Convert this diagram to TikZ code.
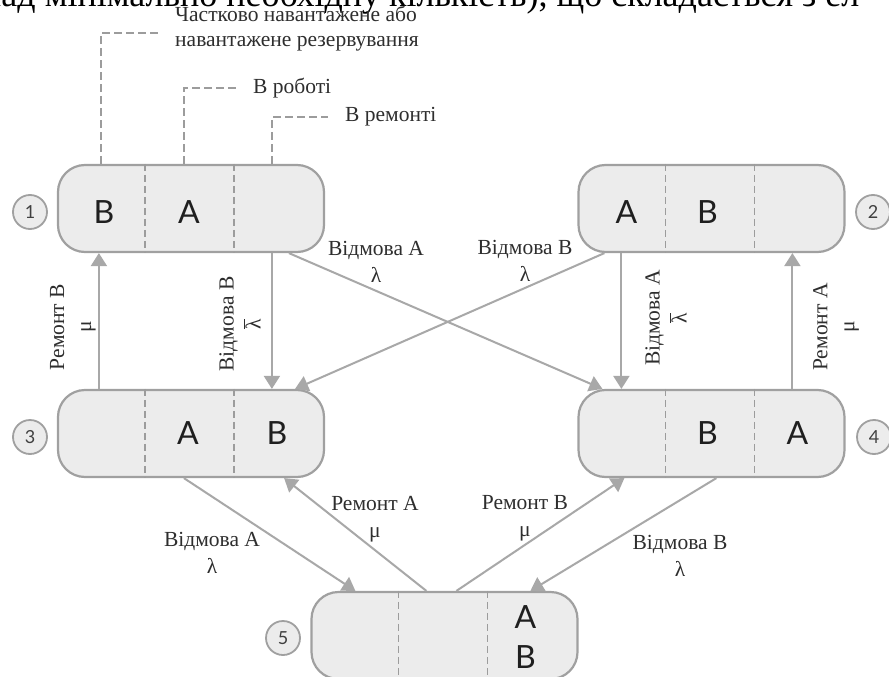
\documentclass[tikz,border=0pt]{standalone}
\usepackage{fontspec}
\setmainfont{Liberation Serif}
\newfontfamily\unitfont{Lato}
\usetikzlibrary{arrows.meta,calc}

\definecolor{boxfill}{HTML}{ECECEC}
\definecolor{boxline}{HTML}{A0A0A0}
\definecolor{arrowgray}{HTML}{A8A8A8}
\definecolor{dashgray}{HTML}{9C9C9C}
\definecolor{labeltext}{HTML}{2E2E2E}

\newcommand{\lbar}{\ensuremath{\overline{\hbox{λ}}}}

\begin{document}
\begin{tikzpicture}[x=1pt,y=-1pt,
  statebox/.style={draw=boxline, fill=boxfill, line width=2.2pt, rounded corners=27pt,
    minimum width=266pt, minimum height=87pt, inner sep=0pt},
  cellsep/.style={draw=dashgray, line width=1.8pt, dash pattern=on 7pt off 4pt},
  leader/.style={draw=dashgray, line width=1.5pt, dash pattern=on 8pt off 4pt},
  unit/.style={font=\unitfont\fontsize{32}{40}\selectfont, text=black!88, inner sep=0pt, align=center},
  numtag/.style={circle, draw=boxline, fill=boxfill, line width=1.8pt, minimum size=34pt,
    inner sep=0pt, font=\unitfont\fontsize{18}{18}\selectfont, text=black!75},
  trans/.style={draw=arrowgray, line width=2pt, -{Triangle[length=13pt,width=16pt]}},
  rate/.style={font=\fontsize{21.5}{27}\selectfont, text=labeltext, align=center, inner sep=0pt},
  legend/.style={font=\fontsize{21.5}{25}\selectfont, text=labeltext, align=left, inner sep=0pt, anchor=west},
]
\path[use as bounding box, fill=white] (0,0) rectangle (889,677);

% running text of the page, cut by the top edge
\begin{scope}
  \clip (0,0) rectangle (889,677);
  \node[anchor=base west, inner sep=0pt, font=\fontsize{36}{36}\selectfont] (runtext) at (-18,7)
    {над мінімально необхідну кількість), що складається з ел};
\end{scope}

% states
\node[statebox] (b1) at (191,208.5) {};
\node[statebox] (b2) at (711.5,208.5) {};
\node[statebox] (b3) at (191,433.5) {};
\node[statebox] (b4) at (711.5,433.5) {};
\node[statebox] (b5) at (444.5,635.5) {};

% cell separators
\foreach \b in {b1,b2,b3,b4,b5}{
  \draw[cellsep] ($(\b.north west)+(88,0)$) -- ($(\b.south west)+(88,0)$);
  \draw[cellsep] ($(\b.north west)+(177,0)$) -- ($(\b.south west)+(177,0)$);
}

% units in the cells
\node[unit] (u1b) at ($(b1.west)+(47,4)$) {B};
\node[unit] (u1a) at ($(b1.west)+(132,4)$) {A};
\node[unit] (u2a) at ($(b2.west)+(49,4)$) {A};
\node[unit] (u2b) at ($(b2.west)+(130,4)$) {B};
\node[unit] (u3a) at ($(b3.west)+(131,0)$) {A};
\node[unit] (u3b) at ($(b3.west)+(220,0)$) {B};
\node[unit] (u4b) at ($(b4.west)+(130,0)$) {B};
\node[unit] (u4a) at ($(b4.west)+(220,0)$) {A};
\node[unit] (u5ab) at ($(b5.west)+(215,2)$) {A\\B};

% state numbers
\node[numtag] (n1) at (30,212) {1};
\node[numtag] (n2) at (873,212) {2};
\node[numtag] (n3) at (30,437) {3};
\node[numtag] (n4) at (874,437) {4};
\node[numtag] (n5) at (283,638) {5};

% legend with leaders
\node[legend] (lg1) at (175,29) {Частково навантажене або\\навантажене резервування};
\node[legend] (lg2) at (253,88) {В роботі};
\node[legend] (lg3) at (345,117) {В ремонті};
\coordinate (e1) at ($(lg1.west)+(-17,4)$);
\coordinate (e2) at ($(lg2.west)+(-15,0)$);
\coordinate (e3) at ($(lg3.west)+(-17,0)$);
\draw[leader] ($(b1.north west)+(44,0)$) |- (e1);
\draw[leader] ($(b1.north west)+(127,0)$) |- (e2);
\draw[leader] ($(b1.north west)+(215,0)$) |- (e3);

% vertical transitions
\draw[trans] ($(b1.south west)+(215,0)$) -- ($(b3.north west)+(215,0)$);
\draw[trans] ($(b3.north west)+(42,0)$) -- ($(b1.south west)+(42,0)$);
\draw[trans] ($(b2.south west)+(44,0)$) -- ($(b4.north west)+(44,0)$);
\draw[trans] ($(b4.north west)+(215,0)$) -- ($(b2.south west)+(215,0)$);

% crossing transitions
\draw[trans] ($(b1.south west)+(232,0)$) -- ($(b4.north west)+(25,0)$);
\draw[trans] ($(b2.south west)+(27,0)$) -- ($(b3.north east)+(-30,0)$);

% transitions to and from state 5
\draw[trans] ($(b3.south west)+(127,0)$) -- ($(b5.north west)+(45,0)$);
\draw[trans] ($(b5.north west)+(116,0)$) -- ($(b3.south east)+(-41,0)$);
\draw[trans] ($(b5.north west)+(146,0)$) -- ($(b4.south west)+(47,0)$);
\draw[trans] ($(b4.south west)+(139,0)$) -- ($(b5.north west)+(220,0)$);

% rates
\node[rate, rotate=90] (r31) at (73,327) {Ремонт В\\μ};
\node[rate, rotate=90] (r13) at (240,324) {Відмова В\\\lbar};
\node[rate, rotate=90] (r24) at (666,318) {Відмова А\\\lbar};
\node[rate, rotate=90] (r42) at (836,327) {Ремонт А\\μ};
\node[rate] (r14) at (376,262) {Відмова А\\λ};
\node[rate] (r23) at (525,261) {Відмова В\\λ};
\node[rate] (r35) at (212,553) {Відмова А\\λ};
\node[rate] (r53) at (375,519) {Ремонт А\\μ};
\node[rate] (r54) at (525,518) {Ремонт В\\μ};
\node[rate] (r45) at (680,556) {Відмова В\\λ};
\end{tikzpicture}
\end{document}
